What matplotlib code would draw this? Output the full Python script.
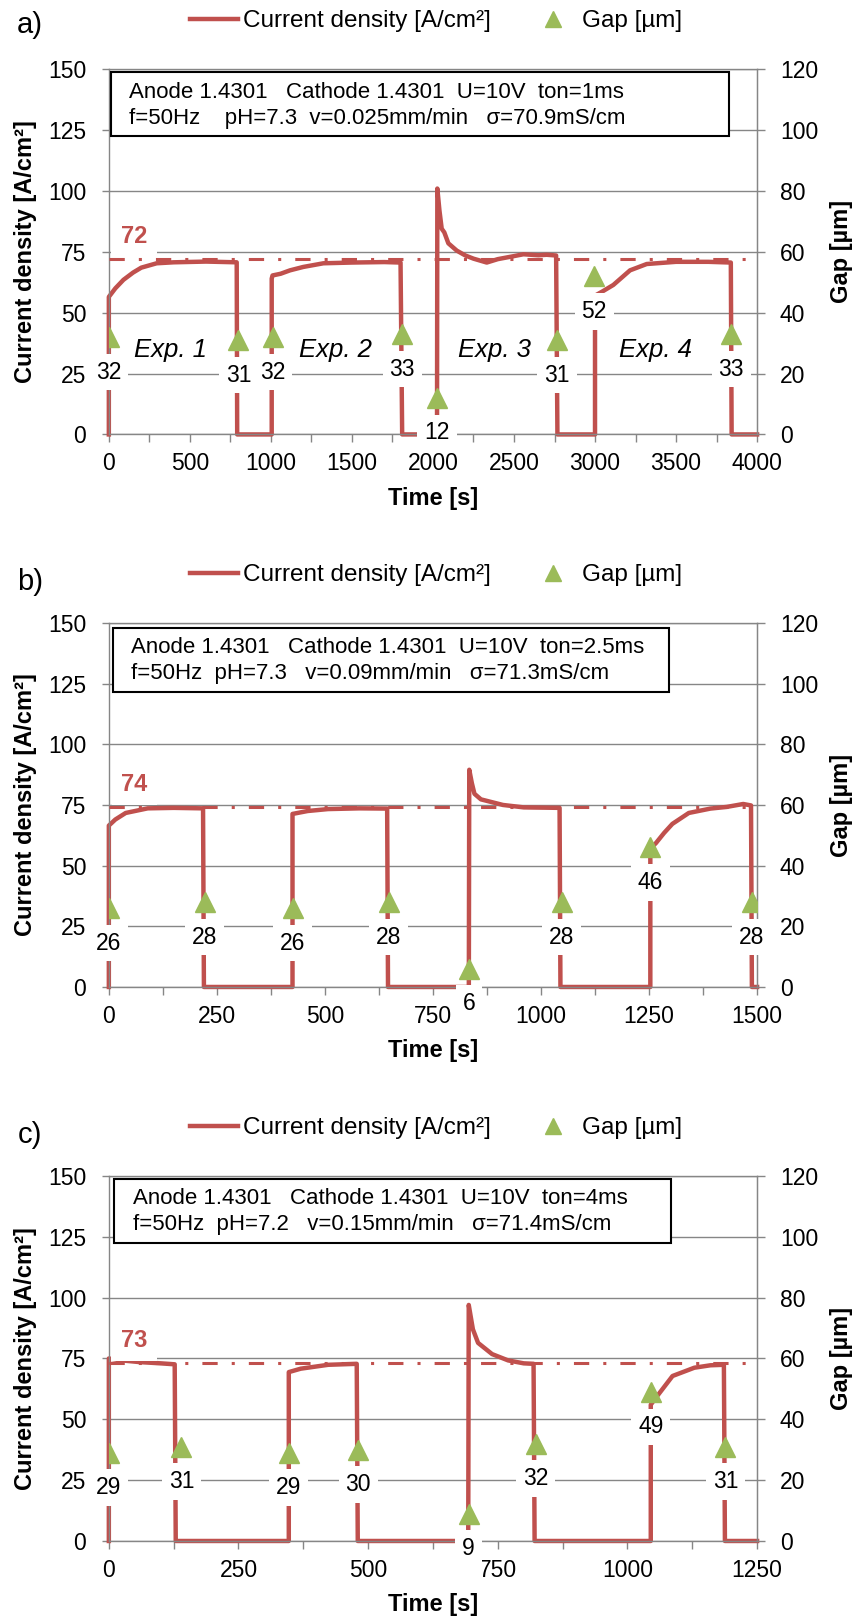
import matplotlib
matplotlib.use("Agg")
import matplotlib.pyplot as plt
from matplotlib.lines import Line2D
from matplotlib.patches import Rectangle
import matplotlib.transforms as mtransforms

plt.rcParams['font.family'] = ['Liberation Sans', 'DejaVu Sans']

RED = '#C0504D'
GREEN = '#9BBB59'
GRAY = '#868686'

# ---- panel a) ----
t_a = [0, 0, 40, 90, 150, 200, 295, 400, 600, 789, 792, 1005, 1005, 1010, 1060, 1118, 1200,
       1324, 1500, 1700, 1800, 1810, 2025, 2027, 2040, 2054, 2070, 2095, 2147, 2200, 2250, 2332,
       2400, 2496, 2558, 2650, 2702, 2760, 2768, 3000, 3000, 3045, 3113, 3216, 3319, 3500,
       3700, 3838, 3843, 4000]
j_a = [0, 56.5, 60, 63.5, 66.5, 68.5, 70.3, 70.7, 71.0, 70.7, 0, 0, 64, 65.3, 66, 67.4, 68.8,
       70.3, 70.6, 70.8, 70.6, 0, 0, 101, 92, 84.5, 83, 78.5, 75.5, 73.5, 72.2, 70.6,
       72, 73.2, 74.0, 73.6, 73.8, 73.5, 0, 0, 57, 58.7, 61.4, 67.4, 70.0, 70.9,
       70.9, 70.6, 0, 0]
gap_t_a = [0, 800, 1010, 1810, 2025, 2765, 2995, 3840]
gap_a = [32, 31, 32, 33, 12, 31, 52, 33]
ref_a = 72
xticks_a = [0, 500, 1000, 1500, 2000, 2500, 3000, 3500, 4000]
xminor_a = [250, 750, 1250, 1750, 2250, 2750, 3250, 3750]
info_a = ["Anode 1.4301   Cathode 1.4301  U=10V  ton=1ms",
          "f=50Hz    pH=7.3  v=0.025mm/min   \u03c3=70.9mS/cm"]
exp_t = [381, 1396, 2381, 3376]
exp_names = ["Exp. 1", "Exp. 2", "Exp. 3", "Exp. 4"]

# ---- panel b) ----
t_b = [0, 0, 15, 39, 90, 150, 218, 220, 425, 425, 460, 507, 580, 644, 646, 833, 834, 840,
       846, 861, 912, 960, 1043, 1045, 1253, 1253, 1266, 1285, 1304, 1342, 1392, 1430, 1468,
       1486, 1488, 1500]
j_b = [0, 66.5, 69, 71.7, 73.6, 73.8, 73.6, 0, 0, 71.3, 72.5, 73.3, 73.6, 73.5, 0, 0, 89.5, 84,
       79.6, 77.3, 75, 74, 73.8, 0, 0, 57, 59.3, 63.5, 67.2, 71.7, 73.5, 74.2, 75.4,
       74.8, 0, 0]
gap_t_b = [0, 222, 425, 648, 833, 1048, 1253, 1488]
gap_b = [26, 28, 26, 28, 6, 28, 46, 28]
ref_b = 74
xticks_b = [0, 250, 500, 750, 1000, 1250, 1500]
xminor_b = [125, 375, 625, 875, 1125, 1375]
info_b = ["Anode 1.4301   Cathode 1.4301  U=10V  ton=2.5ms",
          "f=50Hz  pH=7.3   v=0.09mm/min   \u03c3=71.3mS/cm"]

# ---- panel c) ----
t_c = [0, 0, 20, 60, 100, 127, 129, 347, 347, 370, 423, 478, 480, 693, 694, 702, 712, 739,
       770, 800, 819, 821, 1045, 1045, 1055, 1087, 1129, 1160, 1186, 1188, 1250]
j_c = [0, 75, 74.3, 73.5, 73, 72.6, 0, 0, 69.4, 70.8, 72.4, 72.8, 0, 0, 97, 87, 81.4, 76.8,
       74.2, 73, 72.8, 0, 0, 56, 58.9, 67.8, 71.2, 72.2, 72.4, 0, 0]
gap_t_c = [0, 140, 347, 481, 694, 823, 1045, 1189]
gap_c = [29, 31, 29, 30, 9, 32, 49, 31]
ref_c = 73
xticks_c = [0, 250, 500, 750, 1000, 1250]
xminor_c = [125, 375, 625, 875, 1125]
info_c = ["Anode 1.4301   Cathode 1.4301  U=10V  ton=4ms",
          "f=50Hz  pH=7.2   v=0.15mm/min   \u03c3=71.4mS/cm"]

yticks_left = [0, 25, 50, 75, 100, 125, 150]
yticks_right = [0, 20, 40, 60, 80, 100, 120]

fig = plt.figure(figsize=(8.57, 16.18), dpi=100)

L, W = 0.127, 0.7564


def draw_panel(rect, t, j, gt, g, ref, xticks, xminor, info, box, txt_y, label, label_y):
    ax = fig.add_axes(rect)
    ax2 = ax.twinx()

    ax.set_xlim(xticks[0], xticks[-1])
    ax.set_ylim(0, 150)
    ax2.set_ylim(0, 120)
    ax.set_xticks(xticks)
    ax.set_xticks(xminor, minor=True)
    ax.set_yticks(yticks_left)
    ax2.set_yticks(yticks_right)

    ax.set_axisbelow(True)
    ax.yaxis.grid(True, color=GRAY, lw=1)
    for s in ax.spines.values():
        s.set_color(GRAY)
        s.set_linewidth(1)
    for k in ['left', 'top', 'bottom']:
        ax2.spines[k].set_visible(False)
    ax2.spines['right'].set_color(GRAY)

    ax.tick_params(axis='y', direction='out', length=5.4, width=1, color=GRAY,
                   labelsize=16.5, pad=10.8)
    ax.tick_params(axis='x', which='both', direction='out', length=5.4, width=1,
                   color=GRAY, labelsize=16.5, pad=7.5)
    ax2.tick_params(axis='y', direction='out', length=5.4, width=1, color=GRAY,
                    labelsize=16.5, pad=11)

    # current density
    ax.plot(t, j, color=RED, lw=3.2, clip_on=False, zorder=2)
    # reference level
    ax.axhline(ref, color=RED, lw=2.2, dashes=(5, 4.6, 1, 4.6), zorder=4)
    tr = mtransforms.blended_transform_factory(ax.transAxes, ax.transData)
    ax.text(0.039, ref + 9.5, str(ref), transform=tr, color=RED, fontsize=17,
            fontweight='bold', ha='center', va='center', zorder=3,
            bbox=dict(boxstyle='square,pad=0.4', fc='white', ec='none'))

    # info box
    ax.add_patch(Rectangle((box[0], box[2]), box[1] - box[0], box[3] - box[2],
                           transform=ax.transAxes, fc='white', ec='black', lw=1.5,
                           zorder=5))
    for line, yy in zip(info, txt_y[1:]):
        ax.text(txt_y[0], yy, line, transform=ax.transAxes, fontsize=16,
                ha='left', va='center', zorder=6)

    # gap
    ax2.plot(gt, g, ls='none', marker='^', ms=15, color=GREEN, mec=GREEN, zorder=3)
    for x, v in zip(gt, g):
        ax2.annotate(str(v), xy=(x, v), xytext=(0, -35), textcoords='offset pixels',
                     ha='center', va='center', fontsize=16.5, zorder=4,
                     bbox=dict(boxstyle='square,pad=0.3', fc='white', ec='none'))

    # axis labels
    ax.text(-0.128, 0.5, 'Current density [A/cm\u00b2]', transform=ax.transAxes,
            rotation=90, ha='center', va='center', fontsize=17, fontweight='bold')
    ax.text(1.131, 0.5, 'Gap [\u00b5m]', transform=ax.transAxes,
            rotation=90, ha='center', va='center', fontsize=17, fontweight='bold')
    ax.text(0.5, -0.175, 'Time [s]', transform=ax.transAxes,
            ha='center', va='center', fontsize=17, fontweight='bold')

    handles = [Line2D([], [], color=RED, lw=3.2),
               Line2D([], [], ls='none', marker='^', ms=11.5, color=GREEN)]
    ax.legend(handles, ['Current density [A/cm\u00b2]', 'Gap [\u00b5m]'], loc='center',
              bbox_to_anchor=(0.5048, 1.131), ncol=2, frameon=False, fontsize=17.5,
              handlelength=2.0, handletextpad=0.18, columnspacing=1.58,
              borderaxespad=0, borderpad=0)

    fig.text(30 / 857, label_y, label, ha='center', va='center', fontsize=21)
    return ax, ax2


ax_a, ax2_a = draw_panel([L, 0.7315, W, 0.2257], t_a, j_a, gap_t_a, gap_a, ref_a,
                         xticks_a, xminor_a, info_a, (0.0034, 0.956, 0.816, 0.993),
                         (0.0313, 0.9354, 0.8652), 'a)', 0.9848)
for x, name in zip(exp_t, exp_names):
    ax_a.text(x, 34.7, name, fontsize=18.5, style='italic', ha='center', va='center')

draw_panel([L, 0.3900, W, 0.2250], t_b, j_b, gap_t_b, gap_b, ref_b,
           xticks_b, xminor_b, info_b, (0.0059, 0.864, 0.809, 0.985),
           (0.0342, 0.932, 0.8615), 'b)', 0.6402)

draw_panel([L, 0.0476, W, 0.2256], t_c, j_c, gap_t_c, gap_c, ref_c,
           xticks_c, xminor_c, info_c, (0.008, 0.867, 0.815, 0.992),
           (0.0371, 0.939, 0.867), 'c)', 0.2983)

fig.savefig('out.png', dpi=100)
